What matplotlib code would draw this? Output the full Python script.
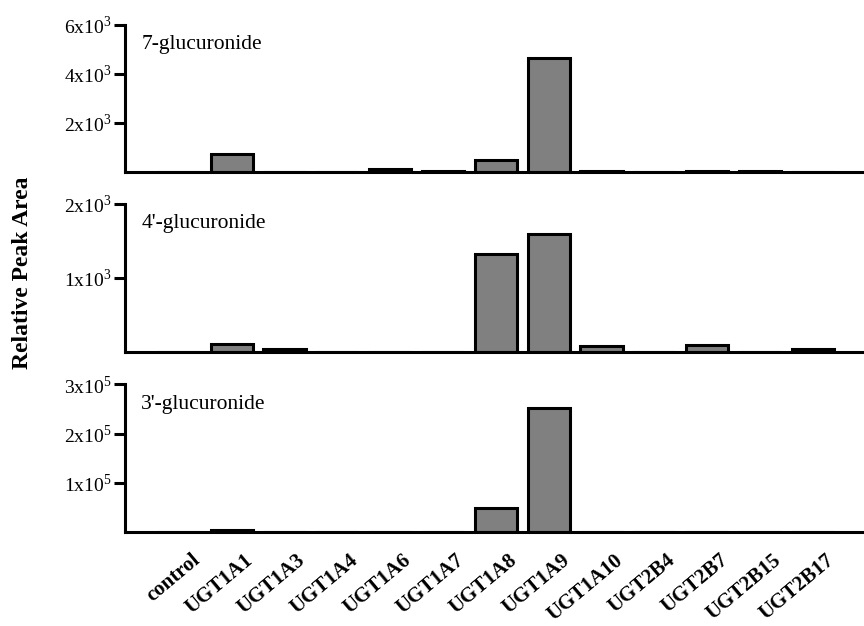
import matplotlib
matplotlib.use("Agg")
from matplotlib import pyplot as plt
from matplotlib.ticker import FixedLocator, FuncFormatter
from matplotlib.transforms import ScaledTranslation
import numpy as np

plt.rcParams["font.family"] = "Liberation Serif"
plt.rcParams["mathtext.fontset"] = "custom"
plt.rcParams["mathtext.rm"] = "Liberation Serif"

isoforms = ["control", "UGT1A1", "UGT1A3", "UGT1A4", "UGT1A6", "UGT1A7", "UGT1A8",
            "UGT1A9", "UGT1A10", "UGT2B4", "UGT2B7", "UGT2B15", "UGT2B17"]

# relative peak areas
gluc_7 = [0, 730, 0, 0, 110, 60, 490, 4650, 50, 0, 40, 40, 0]
gluc_4p = [0, 110, 35, 0, 0, 0, 1324, 1595, 75, 0, 90, 0, 35]
gluc_3p = [0, 3500, 0, 0, 0, 0, 49000, 252000, 0, 0, 0, 0, 0]

panel_names = ["7-glucuronide", "4'-glucuronide", "3'-glucuronide"]
panel_ticks = [[2000, 4000, 6000], [1000, 2000], [100000, 200000, 300000]]
panel_exp = [3, 3, 5]

fig = plt.figure(figsize=(8.64, 6.26), dpi=100)

# axes boxes [left, bottom, width, height] in figure fractions
boxes = [[0.1447, 0.725, 0.8553, 0.235],
         [0.1447, 0.438, 0.8553, 0.236],
         [0.1447, 0.150, 0.8553, 0.236]]

x = np.arange(len(isoforms))
data = [gluc_7, gluc_4p, gluc_3p]

for i in range(3):
    ax = fig.add_axes(boxes[i])
    ax.bar(x, data[i], width=0.8, color="#808080", edgecolor="black", linewidth=2.2)
    ax.set_xlim(-1.02, 12.97)
    ax.set_ylim(0, panel_ticks[i][-1])

    for side in ["top", "right"]:
        ax.spines[side].set_visible(False)
    for side in ["left", "bottom"]:
        ax.spines[side].set_linewidth(2.2)

    e = panel_exp[i]
    ax.yaxis.set_major_locator(FixedLocator(panel_ticks[i]))
    ax.yaxis.set_major_formatter(
        FuncFormatter(lambda v, p, e=e: "%dx10$^{\\mathregular{%d}}$" % (round(v / 10 ** e), e)))
    ax.tick_params(axis="y", length=8, width=2.2, labelsize=14, pad=2)

    ax.set_xticks(x)
    if i < 2:
        ax.tick_params(axis="x", length=0, labelbottom=False)
    else:
        ax.set_xticklabels(isoforms, rotation=40, ha="right", rotation_mode="anchor",
                           fontweight="bold", fontsize=15)
        ax.tick_params(axis="x", length=0, pad=13)
        shift = ScaledTranslation(12 / 100, 0, fig.dpi_scale_trans)
        for lab in ax.get_xticklabels():
            lab.set_transform(lab.get_transform() + shift)

    ax.text(0.022, 0.93, panel_names[i], transform=ax.transAxes, fontsize=15.5,
            va="top", ha="left")

fig.text(0.0255, 0.564, "Relative Peak Area", rotation=90, fontsize=17,
         fontweight="bold", va="center", ha="center")

fig.savefig("out.png", dpi=100)
